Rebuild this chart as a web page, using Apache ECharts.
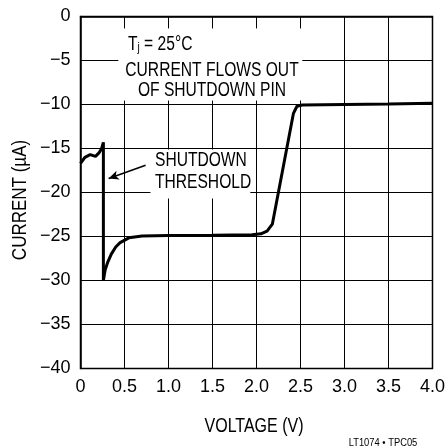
<!DOCTYPE html>
<html>
<head>
<meta charset="utf-8">
<script src="https://cdn.jsdelivr.net/npm/echarts@6/dist/echarts.min.js"></script>
<style>
  html, body { margin: 0; padding: 0; background: #fff; }
  #chart { width: 448px; height: 448px; }
</style>
</head>
<body>
<div id="chart"></div>
<script>
// 关断引脚电流 vs 电压
const voltage = [0, 0.05, 0.11, 0.17, 0.21, 0.24, 0.26, 0.26, 0.28, 0.31, 0.35, 0.4, 0.45, 0.55, 0.7, 1.0, 1.5, 1.95, 2.05, 2.12, 2.18, 2.42, 2.46, 2.52, 3.0, 3.5, 4.0]
const current = [-16.7, -16.0, -15.7, -15.9, -15.5, -15.0, -14.3, -30, -28.8, -27.9, -27.0, -26.2, -25.7, -25.15, -24.95, -24.9, -24.85, -24.8, -24.7, -24.4, -23.6, -11.0, -10.2, -10.05, -10.0, -9.95, -9.85]
const xTicks = ['0', '0.5', '1.0', '1.5', '2.0', '2.5', '3.0', '3.5', '4.0']
const yTicks = ['−40', '−35', '−30', '−25', '−20', '−15', '−10', '−5', '0']

const FONT = "'Liberation Sans', Arial, sans-serif"
const NARROW = 0.78 // 原图是窄体字

// 网格线在文字框处断开（数据坐标）
const gaps = [
  { x0: 0.43, x1: 2.52, y0: -9.55, y1: -1.36 },
  { x0: 0.795, x1: 1.93, y0: -20.68, y1: -15.11 }
]

function cut (a, b, holes) {
  let segs = [[a, b]]
  holes.forEach(h => {
    let next = []
    segs.forEach(s => {
      if (h[1] <= s[0] || h[0] >= s[1]) { next.push(s); return }
      if (h[0] > s[0]) next.push([s[0], h[0]])
      if (h[1] < s[1]) next.push([h[1], s[1]])
    })
    segs = next
  })
  return segs
}

let gridLines = []
for (let i = 1; i < xTicks.length - 1; i++) {
  let x = i * 0.5
  let holes = gaps.filter(g => x > g.x0 && x < g.x1).map(g => [g.y0, g.y1])
  cut(-40, 0, holes).forEach(s => gridLines.push([{ coord: [x, s[0]] }, { coord: [x, s[1]] }]))
}
for (let i = 1; i < yTicks.length - 1; i++) {
  let y = -40 + i * 5
  let holes = gaps.filter(g => y > g.y0 && y < g.y1).map(g => [g.x0, g.x1])
  cut(0, 4, holes).forEach(s => gridLines.push([{ coord: [s[0], y] }, { coord: [s[1], y] }]))
}

let myChart = echarts.init(document.getElementById('chart'))
let points = voltage.map((v, i) => [v, current[i]])

let option = {
  animation: false,
  grid: {
    left: 80.5,
    top: 16.5,
    width: 352,
    height: 352,
    show: true,
    borderColor: '#000',
    borderWidth: 1.5,
    backgroundColor: 'transparent'
  },
  xAxis: {
    type: 'value',
    min: 0,
    max: 4,
    interval: 0.5,
    axisLabel: {
      margin: 10,
      color: '#000',
      fontSize: 18,
      fontFamily: FONT,
      formatter: v => xTicks[Math.round(v / 0.5)]
    },
    axisTick: { show: false },
    axisLine: { show: true, lineStyle: { color: '#000', width: 1.5 } },
    splitLine: { show: false }
  },
  yAxis: {
    type: 'value',
    min: -40,
    max: 0,
    interval: 5,
    axisLabel: {
      margin: 10,
      color: '#000',
      fontSize: 18,
      fontFamily: FONT,
      formatter: v => yTicks[Math.round((v + 40) / 5)]
    },
    axisTick: { show: false },
    axisLine: { show: true, lineStyle: { color: '#000', width: 1.5 } },
    splitLine: { show: false }
  },
  series: [
    {
      // 网格线
      type: 'line',
      z: 1,
      data: [[0, -40]],
      symbol: 'none',
      lineStyle: { width: 0 },
      markLine: {
        silent: true,
        symbol: ['none', 'none'],
        label: { show: false },
        lineStyle: { color: '#000', width: 1, type: 'solid' },
        data: gridLines
      }
    },
    {
      type: 'line',
      z: 10,
      data: points,
      showSymbol: false,
      smooth: false,
      lineStyle: { color: '#000', width: 3 },
      markLine: {
        silent: true,
        symbol: ['none', 'arrow'],
        symbolSize: [7, 10],
        label: { show: false },
        lineStyle: { color: '#000', width: 1.5, type: 'solid' },
        data: [[{ coord: [0.74, -16.9] }, { coord: [0.32, -18.4] }]]
      }
    }
  ],
  graphic: [
    {
      type: 'text', z: 200, x: 128, y: 43, scaleX: NARROW,
      style: {
        text: '{a|T}{s|j}{a| = 25°C}',
        verticalAlign: 'middle',
        rich: {
          a: { fontSize: 20, fontFamily: FONT, fill: '#000', lineHeight: 22, verticalAlign: 'bottom' },
          s: { fontSize: 13, fontFamily: FONT, fill: '#000', lineHeight: 22, verticalAlign: 'bottom', padding: [10, 0, 0, 0] }
        }
      }
    },
    {
      type: 'text', z: 200, x: 212, y: 80, scaleX: NARROW,
      style: {
        text: 'CURRENT FLOWS OUT\nOF SHUTDOWN PIN',
        fontSize: 20, fontFamily: FONT, fill: '#000', lineHeight: 20,
        align: 'center', verticalAlign: 'middle'
      }
    },
    {
      type: 'text', z: 200, x: 155, y: 171, scaleX: NARROW,
      style: {
        text: 'SHUTDOWN\nTHRESHOLD',
        fontSize: 20, fontFamily: FONT, fill: '#000', lineHeight: 22,
        align: 'left', verticalAlign: 'middle'
      }
    },
    {
      type: 'text', z: 200, x: 20, y: 200, rotation: Math.PI / 2, scaleX: 0.85,
      style: {
        text: 'CURRENT (µA)',
        fontSize: 20, fontFamily: FONT, fill: '#000',
        align: 'center', verticalAlign: 'middle'
      }
    },
    {
      type: 'text', z: 200, x: 254, y: 426, scaleX: 0.8,
      style: {
        text: 'VOLTAGE (V)',
        fontSize: 20, fontFamily: FONT, fill: '#000',
        align: 'center', verticalAlign: 'middle'
      }
    },
    {
      type: 'text', z: 200, x: 383, y: 443, scaleX: 0.85,
      style: {
        text: 'LT1074 • TPC05',
        fontSize: 11, fontFamily: FONT, fill: '#000',
        align: 'center', verticalAlign: 'middle'
      }
    }
  ]
}
myChart.setOption(option, true)
</script>
</body>
</html>
